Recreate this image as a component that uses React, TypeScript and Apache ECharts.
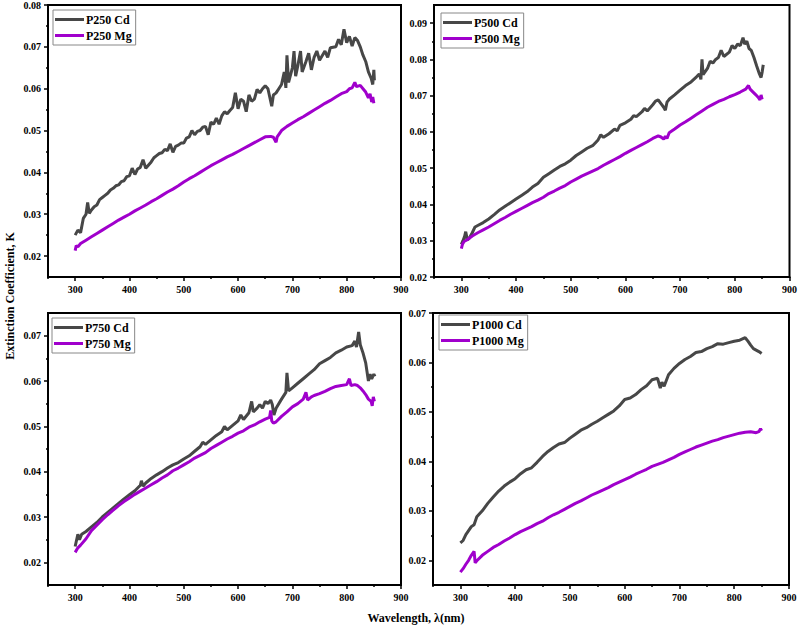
import React, { useEffect, useRef } from "react";
import * as echarts from "echarts";

type P = [number, number][];

const xMajor = [300, 400, 500, 600, 700, 800, 900];
const xMinor = [250, 350, 450, 550, 650, 750, 850];

const panelNames = [
  ["P250 Cd", "P250 Mg"],
  ["P500 Cd", "P500 Mg"],
  ["P750 Cd", "P750 Mg"],
  ["P1000 Cd", "P1000 Mg"],
];

const yRanges = [
  [0.015, 0.08],
  [0.02, 0.095],
  [0.015, 0.075],
  [0.015, 0.07],
];
const yMajors = [
  [0.02, 0.03, 0.04, 0.05, 0.06, 0.07, 0.08],
  [0.02, 0.03, 0.04, 0.05, 0.06, 0.07, 0.08, 0.09],
  [0.02, 0.03, 0.04, 0.05, 0.06, 0.07],
  [0.02, 0.03, 0.04, 0.05, 0.06, 0.07],
];
const yMinors = [
  [0.025, 0.035, 0.045, 0.055, 0.065, 0.075],
  [0.025, 0.035, 0.045, 0.055, 0.065, 0.075, 0.085],
  [0.025, 0.035, 0.045, 0.055, 0.065],
  [0.025, 0.035, 0.045, 0.055, 0.065],
];

const p250Cd: P = [[300,0.0250],[305,0.0262],[310,0.0256],[315,0.0290],[320,0.0300],[323,0.0328],[326,0.0302],[330,0.0310],[335,0.0318],[340,0.0322],[345,0.0335],[350,0.0340],[355,0.0345],[360,0.0350],[365,0.0358],[370,0.0362],[375,0.0368],[380,0.0370],[385,0.0378],[390,0.0380],[395,0.0390],[400,0.0392],[405,0.0410],[410,0.0395],[415,0.0408],[420,0.0412],[425,0.0430],[430,0.0410],[440,0.0425],[445,0.0435],[450,0.0440],[455,0.0445],[460,0.0447],[465,0.0455],[470,0.0452],[475,0.0468],[480,0.0448],[485,0.0462],[490,0.0465],[495,0.0470],[500,0.0470],[505,0.0482],[510,0.0485],[515,0.0500],[520,0.0490],[525,0.0498],[530,0.0500],[535,0.0508],[540,0.0510],[545,0.0490],[550,0.0520],[555,0.0515],[560,0.0530],[565,0.0515],[570,0.0535],[575,0.0545],[580,0.0540],[585,0.0548],[590,0.0555],[595,0.0590],[600,0.0552],[605,0.0575],[610,0.0570],[615,0.0545],[620,0.0585],[625,0.0570],[630,0.0575],[635,0.0598],[640,0.0590],[645,0.0600],[650,0.0607],[655,0.0600],[660,0.0570],[662,0.0558],[665,0.0585],[670,0.0590],[675,0.0600],[680,0.0610],[685,0.0640],[688,0.0602],[690,0.0680],[693,0.0615],[700,0.0650],[703,0.0690],[706,0.0630],[710,0.0655],[715,0.0690],[718,0.0640],[725,0.0665],[730,0.0685],[735,0.0645],[740,0.0675],[745,0.0690],[750,0.0668],[760,0.0690],[765,0.0675],[770,0.0698],[780,0.0700],[785,0.0718],[790,0.0705],[795,0.0742],[800,0.0710],[805,0.0725],[810,0.0702],[815,0.0722],[820,0.0715],[825,0.0700],[830,0.0680],[835,0.0665],[840,0.0640],[845,0.0625],[848,0.0610],[850,0.0645],[851,0.0620]];
const p250Mg: P = [[300,0.0213],[302,0.0225],[305,0.0222],[310,0.0230],[320,0.0238],[330,0.0246],[340,0.0254],[350,0.0262],[360,0.0270],[370,0.0278],[380,0.0286],[390,0.0293],[400,0.0300],[410,0.0308],[420,0.0315],[430,0.0322],[440,0.0330],[450,0.0337],[460,0.0345],[470,0.0353],[480,0.0360],[490,0.0368],[500,0.0377],[510,0.0385],[520,0.0392],[530,0.0400],[540,0.0408],[550,0.0416],[560,0.0423],[570,0.0430],[580,0.0437],[590,0.0443],[600,0.0450],[610,0.0457],[620,0.0464],[630,0.0471],[640,0.0478],[650,0.0485],[660,0.0486],[665,0.0484],[670,0.0472],[672,0.0485],[680,0.0500],[690,0.0510],[700,0.0518],[710,0.0526],[720,0.0533],[730,0.0541],[740,0.0549],[750,0.0557],[760,0.0565],[770,0.0572],[780,0.0580],[790,0.0588],[800,0.0593],[805,0.0600],[810,0.0602],[815,0.0615],[818,0.0605],[825,0.0608],[830,0.0600],[835,0.0592],[840,0.0578],[843,0.0588],[846,0.0568],[848,0.0580],[850,0.0565]];
const p500Cd: P = [[300,0.0290],[303,0.0300],[306,0.0312],[308,0.0325],[311,0.0302],[315,0.0308],[320,0.0322],[325,0.0338],[330,0.0342],[340,0.0350],[350,0.0360],[360,0.0372],[370,0.0385],[380,0.0395],[390,0.0405],[400,0.0415],[410,0.0425],[420,0.0435],[430,0.0448],[440,0.0458],[450,0.0475],[460,0.0485],[470,0.0495],[480,0.0505],[490,0.0512],[500,0.0522],[510,0.0535],[520,0.0545],[530,0.0555],[540,0.0562],[550,0.0578],[555,0.0592],[560,0.0585],[570,0.0595],[580,0.0608],[585,0.0603],[590,0.0618],[600,0.0625],[610,0.0635],[615,0.0645],[620,0.0642],[630,0.0655],[635,0.0665],[640,0.0658],[650,0.0675],[655,0.0685],[660,0.0688],[665,0.0678],[670,0.0668],[673,0.0660],[676,0.0682],[680,0.0690],[690,0.0702],[700,0.0715],[710,0.0728],[720,0.0738],[730,0.0752],[735,0.0760],[738,0.0745],[740,0.0800],[742,0.0758],[750,0.0775],[755,0.0795],[760,0.0790],[765,0.0800],[770,0.0805],[775,0.0825],[780,0.0808],[790,0.0820],[795,0.0838],[800,0.0830],[805,0.0842],[810,0.0838],[815,0.0860],[818,0.0842],[822,0.0850],[826,0.0830],[830,0.0825],[835,0.0805],[840,0.0782],[845,0.0760],[848,0.0750],[850,0.0765],[852,0.0785]];
const p500Mg: P = [[300,0.0278],[302,0.0290],[305,0.0298],[310,0.0302],[320,0.0313],[330,0.0322],[340,0.0330],[350,0.0338],[360,0.0347],[370,0.0356],[380,0.0364],[390,0.0373],[400,0.0381],[410,0.0389],[420,0.0397],[430,0.0405],[440,0.0412],[450,0.0420],[460,0.0430],[470,0.0437],[480,0.0445],[490,0.0452],[500,0.0462],[510,0.0470],[520,0.0478],[530,0.0485],[540,0.0492],[550,0.0499],[560,0.0508],[570,0.0516],[580,0.0524],[590,0.0532],[600,0.0541],[610,0.0549],[620,0.0557],[630,0.0565],[640,0.0573],[650,0.0582],[660,0.0589],[665,0.0586],[670,0.0580],[673,0.0588],[676,0.0582],[680,0.0598],[690,0.0608],[700,0.0619],[710,0.0628],[720,0.0638],[730,0.0648],[740,0.0658],[750,0.0668],[760,0.0676],[770,0.0684],[780,0.0690],[790,0.0697],[800,0.0703],[810,0.0710],[820,0.0718],[825,0.0728],[828,0.0718],[832,0.0712],[838,0.0703],[843,0.0695],[846,0.0688],[848,0.0702],[850,0.0690]];
const p750Cd: P = [[300,0.0235],[305,0.0262],[308,0.0250],[312,0.0262],[320,0.0268],[330,0.0278],[340,0.0288],[350,0.0300],[360,0.0310],[370,0.0320],[380,0.0330],[390,0.0340],[400,0.0349],[410,0.0358],[420,0.0370],[422,0.0380],[425,0.0368],[430,0.0375],[440,0.0385],[450,0.0393],[460,0.0400],[470,0.0408],[480,0.0415],[490,0.0420],[500,0.0428],[510,0.0435],[520,0.0445],[530,0.0455],[535,0.0465],[540,0.0460],[550,0.0470],[560,0.0480],[570,0.0488],[575,0.0500],[580,0.0492],[590,0.0502],[600,0.0512],[605,0.0525],[610,0.0515],[620,0.0530],[625,0.0555],[628,0.0532],[635,0.0540],[640,0.0548],[645,0.0540],[650,0.0555],[655,0.0550],[660,0.0558],[663,0.0548],[666,0.0525],[670,0.0540],[680,0.0560],[688,0.0575],[690,0.0618],[693,0.0578],[700,0.0585],[710,0.0595],[720,0.0605],[730,0.0615],[740,0.0625],[750,0.0638],[760,0.0645],[770,0.0652],[780,0.0662],[790,0.0668],[800,0.0675],[810,0.0678],[815,0.0688],[818,0.0675],[822,0.0708],[825,0.0680],[830,0.0662],[835,0.0640],[840,0.0600],[843,0.0615],[846,0.0605],[850,0.0615],[852,0.0610]];
const p750Mg: P = [[300,0.0222],[305,0.0232],[310,0.0238],[320,0.0252],[330,0.0270],[340,0.0282],[350,0.0294],[360,0.0305],[370,0.0315],[380,0.0325],[390,0.0334],[400,0.0342],[410,0.0350],[420,0.0357],[430,0.0364],[440,0.0371],[450,0.0378],[460,0.0386],[470,0.0393],[480,0.0402],[490,0.0408],[500,0.0415],[510,0.0422],[520,0.0430],[530,0.0436],[540,0.0442],[550,0.0451],[560,0.0458],[570,0.0465],[580,0.0472],[590,0.0478],[600,0.0485],[610,0.0490],[620,0.0498],[630,0.0503],[640,0.0510],[650,0.0516],[658,0.0520],[660,0.0535],[662,0.0512],[665,0.0507],[670,0.0510],[680,0.0522],[690,0.0532],[700,0.0543],[710,0.0550],[720,0.0560],[725,0.0575],[728,0.0558],[735,0.0565],[740,0.0568],[750,0.0572],[760,0.0577],[770,0.0583],[780,0.0588],[790,0.0590],[800,0.0592],[805,0.0605],[808,0.0590],[815,0.0592],[820,0.0590],[825,0.0585],[830,0.0578],[835,0.0570],[840,0.0560],[845,0.0555],[847,0.0545],[849,0.0565],[851,0.0555]];
const p1000Cd: P = [[300,0.0235],[305,0.0240],[310,0.0252],[315,0.0260],[320,0.0268],[325,0.0272],[330,0.0288],[340,0.0300],[350,0.0315],[360,0.0328],[370,0.0340],[380,0.0350],[390,0.0358],[400,0.0365],[410,0.0375],[420,0.0383],[430,0.0387],[440,0.0398],[450,0.0410],[460,0.0420],[470,0.0428],[480,0.0435],[490,0.0438],[500,0.0447],[510,0.0455],[520,0.0463],[530,0.0468],[540,0.0475],[550,0.0481],[560,0.0488],[570,0.0495],[580,0.0502],[590,0.0512],[600,0.0525],[610,0.0528],[620,0.0535],[630,0.0545],[640,0.0553],[650,0.0565],[660,0.0568],[665,0.0548],[668,0.0560],[672,0.0552],[680,0.0575],[690,0.0588],[700,0.0598],[710,0.0606],[720,0.0612],[730,0.0620],[740,0.0622],[750,0.0628],[760,0.0632],[770,0.0638],[780,0.0637],[790,0.0640],[800,0.0643],[810,0.0645],[820,0.0650],[825,0.0643],[830,0.0635],[835,0.0628],[840,0.0625],[845,0.0622],[850,0.0618]];
const p1000Mg: P = [[300,0.0176],[305,0.0183],[310,0.0192],[315,0.0200],[320,0.0210],[325,0.0218],[327,0.0195],[330,0.0199],[340,0.0210],[350,0.0218],[360,0.0226],[370,0.0232],[380,0.0239],[390,0.0245],[400,0.0252],[410,0.0258],[420,0.0263],[430,0.0268],[440,0.0274],[450,0.0279],[460,0.0286],[470,0.0292],[480,0.0297],[490,0.0303],[500,0.0309],[510,0.0315],[520,0.0320],[530,0.0326],[540,0.0332],[550,0.0337],[560,0.0342],[570,0.0347],[580,0.0353],[590,0.0358],[600,0.0363],[610,0.0368],[620,0.0374],[630,0.0379],[640,0.0384],[650,0.0390],[660,0.0394],[670,0.0398],[680,0.0403],[690,0.0408],[700,0.0414],[710,0.0419],[720,0.0424],[730,0.0429],[740,0.0433],[750,0.0437],[760,0.0441],[770,0.0444],[780,0.0448],[790,0.0451],[800,0.0454],[810,0.0457],[820,0.0459],[830,0.0460],[840,0.0458],[845,0.0460],[848,0.0466],[850,0.0462]];

const panelData: P[][] = [
  [p250Cd, p250Mg],
  [p500Cd, p500Mg],
  [p750Cd, p750Mg],
  [p1000Cd, p1000Mg],
];

const FONT = '"Liberation Serif", "Times New Roman", serif';
const CD_COLOR = "#474747";
const MG_COLOR = "#a000cc";

const grids = [
  { left: 48, top: 5, width: 353, height: 272 },
  { left: 434, top: 5, width: 356, height: 272 },
  { left: 48, top: 313, width: 353, height: 272 },
  { left: 433, top: 313, width: 356, height: 272 },
];
const legendPos = [
  { left: 53, top: 10 },
  { left: 441, top: 13 },
  { left: 52, top: 318 },
  { left: 439, top: 315 },
];

export default function App() {
  const ref = useRef<HTMLDivElement>(null);
  useEffect(() => {
    if (!ref.current) return;
    const chart = echarts.init(ref.current, undefined, { renderer: "svg" });
    const labelStyle = { fontFamily: FONT, fontWeight: "bold", fontSize: 10, color: "#000" };
    const xAxis: any[] = [];
    const yAxis: any[] = [];
    const series: any[] = [];
    const legend: any[] = [];
    grids.forEach((g, i) => {
      xAxis.push({
        type: "value", gridIndex: i, min: 250, max: 900, interval: 50,
        axisLine: { show: true, onZero: false, lineStyle: { color: "#000", width: 2 } },
        axisTick: { show: true, inside: false, length: 4, customValues: xMajor, lineStyle: { color: "#000", width: 1.5 } },
        axisLabel: { show: true, margin: 7, customValues: xMajor, formatter: (v: number) => String(v), ...labelStyle },
        splitLine: { show: false },
      });
      xAxis.push({
        type: "value", gridIndex: i, min: 250, max: 900, interval: 50, position: "bottom",
        axisLine: { show: false },
        axisTick: { show: true, inside: false, length: 2, customValues: xMinor, lineStyle: { color: "#000", width: 1.5 } },
        axisLabel: { show: false },
        splitLine: { show: false },
      });
      const [ymin, ymax] = yRanges[i];
      yAxis.push({
        type: "value", gridIndex: i, min: ymin, max: ymax,
        axisLine: { show: true, onZero: false, lineStyle: { color: "#000", width: 2 } },
        axisTick: { show: true, inside: false, length: 4, customValues: yMajors[i], lineStyle: { color: "#000", width: 1.5 } },
        axisLabel: { show: true, margin: 7, customValues: yMajors[i], formatter: (v: number) => v.toFixed(2), ...labelStyle },
        splitLine: { show: false },
      });
      yAxis.push({
        type: "value", gridIndex: i, min: ymin, max: ymax, position: "left",
        axisLine: { show: false },
        axisTick: { show: true, inside: false, length: 2, customValues: yMinors[i], lineStyle: { color: "#000", width: 1.5 } },
        axisLabel: { show: false },
        splitLine: { show: false },
      });
      const names = panelNames[i];
      const colors = [CD_COLOR, MG_COLOR];
      names.forEach((n, k) => {
        series.push({
          name: n, type: "line", xAxisIndex: 2 * i, yAxisIndex: 2 * i,
          data: panelData[i][k], showSymbol: false, symbol: "none",
          lineStyle: { color: colors[k], width: 3 }, itemStyle: { color: colors[k] },
          z: k === 0 ? 3 : 4,
        });
      });
      legend.push({
        data: names, orient: "vertical", left: legendPos[i].left, top: legendPos[i].top,
        icon: "rect", itemWidth: 29, itemHeight: 3, itemGap: 3,
        borderColor: "#888", borderWidth: 1, padding: [3, 4, 3, 2],
        textStyle: { fontFamily: FONT, fontWeight: "bold", fontSize: 12, color: "#000", lineHeight: 13, padding: [0, 0, 0, -3] },
        selectedMode: false,
      });
    });
    chart.setOption({
      animation: false,
      backgroundColor: "#fff",
      grid: grids.map((g) => ({ ...g, show: true, borderColor: "#000", borderWidth: 2, backgroundColor: "transparent" })),
      xAxis, yAxis, series, legend,
      graphic: [
        {
          type: "text", x: 416, y: 618,
          style: { text: "Wavelength, λ(nm)", fontFamily: FONT, fontWeight: "bold", fontSize: 12, fill: "#000", textAlign: "center", textVerticalAlign: "middle" },
        },
        {
          type: "text", x: 10, y: 296, rotation: Math.PI / 2,
          style: { text: "Extinction Coefficient, K", fontFamily: FONT, fontWeight: "bold", fontSize: 12, fill: "#000", textAlign: "center", textVerticalAlign: "middle" },
        },
      ],
    });
    return () => chart.dispose();
  }, []);
  return <div ref={ref} style={{ position: "fixed", left: 0, top: 0, width: 800, height: 628 }} />;
}
